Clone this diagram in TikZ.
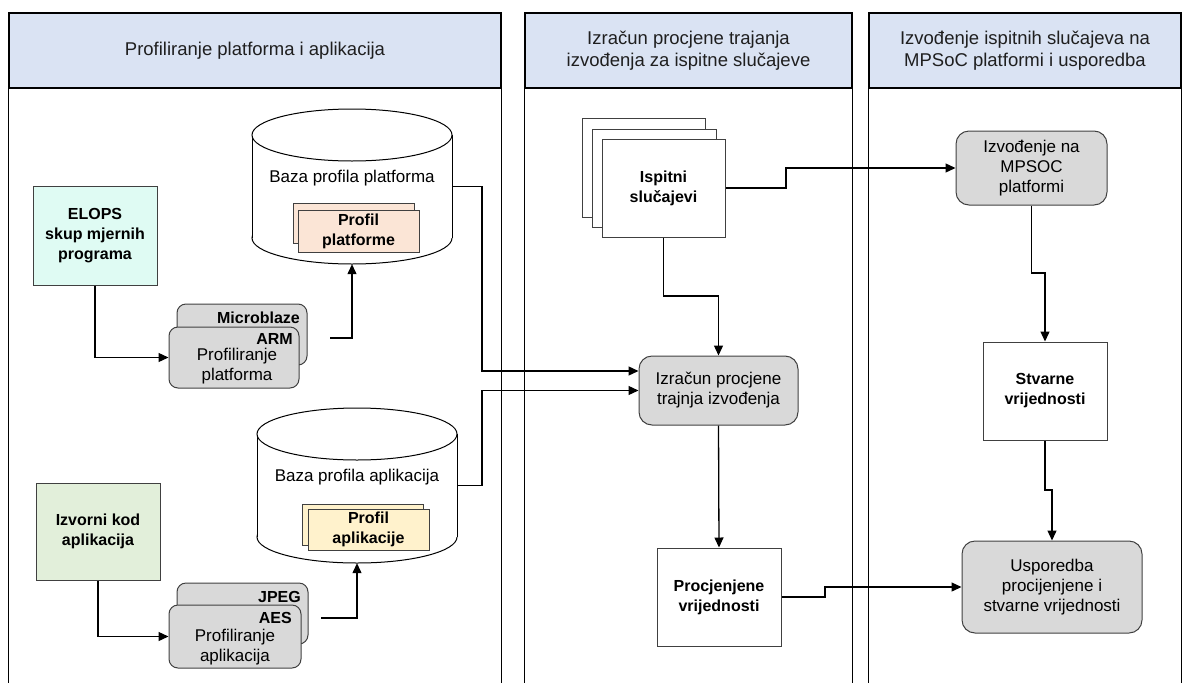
\documentclass[tikz,border=0pt]{standalone}
\usepackage{fontspec}
\setmainfont{Liberation Sans}
\usetikzlibrary{arrows.meta}
\definecolor{hdr}{HTML}{DAE3F3}
\definecolor{gry}{HTML}{D9D9D9}
\definecolor{mint}{HTML}{DFFBF3}
\definecolor{lgreen}{HTML}{E2EFDA}
\definecolor{peach}{HTML}{FBE5D6}
\definecolor{lyel}{HTML}{FFF2CC}
\definecolor{bord}{HTML}{404040}
\begin{document}
\begin{tikzpicture}[x=1pt,y=-1pt,
 hdrbox/.style={draw=black, line width=1.2pt, fill=hdr, inner sep=0,
   font=\fontsize{18.5}{22}\selectfont, align=center, text=black!88},
 lane/.style={draw=black, line width=1.2pt},
 gbox/.style={draw=bord, line width=1pt, fill=gry, rounded corners=9pt, inner sep=0},
 rbox/.style={draw=bord, line width=1pt, fill=gry, rounded corners=13pt, inner sep=0,
   font=\fontsize{17}{20}\selectfont, align=center},
 wbox/.style={draw=bord, line width=1pt, fill=white, inner sep=0,
   font=\fontsize{16}{20}\selectfont\bfseries, align=center},
 cbox/.style={draw=bord, line width=1pt, inner sep=0,
   font=\fontsize{16}{20}\selectfont\bfseries, align=center},
 btxt/.style={font=\fontsize{16}{20}\selectfont\bfseries, align=center, inner sep=0},
 rtxt/.style={font=\fontsize{17}{20}\selectfont, align=center, inner sep=0},
 cyl/.style={draw=black, line width=1pt, fill=white},
 arr/.style={draw=black, line width=1.3pt, -{Triangle[length=10pt,width=9pt]}},
 ln/.style={draw=black, line width=1.3pt}
]
\useasboundingbox (0,0) rectangle (1183,683);

% ---------- lanes ----------
\node[hdrbox, minimum width=492pt, minimum height=75pt] (h1) at (255,50.5)
  {Profiliranje platforma i aplikacija};
\node[hdrbox, minimum width=327pt, minimum height=75pt] (h2) at (688.5,50.5)
  {Izračun procjene trajanja\\izvođenja za ispitne slučajeve};
\node[hdrbox, minimum width=312pt, minimum height=75pt] (h3) at (1025,50.5)
  {Izvođenje ispitnih slučajeva na\\MPSoC platformi i usporedba};
\foreach \h in {h1,h2,h3}{
  \draw[lane] (\h.south west) -- (\h.south west |- 0,683);
  \draw[lane] (\h.south east) -- (\h.south east |- 0,683);
}

% ---------- cylinders ----------
\node[minimum width=200pt, minimum height=155pt, inner sep=0] (db1) at (352,186.5) {};
\filldraw[cyl] (352,238) ellipse [x radius=100, y radius=26];
\fill[white] (252,135) rectangle (452,238);
\draw[cyl] (252,135) -- (252,238) (452,135) -- (452,238);
\filldraw[cyl] (352,135) ellipse [x radius=100, y radius=26];
\node[rtxt] (db1t) at (352,178) {Baza profila platforma};
\node[cbox, fill=peach, minimum width=121pt, minimum height=40pt] (pp2) at (353.5,223) {};
\node[cbox, fill=peach, minimum width=121pt, minimum height=42pt] (pp1) at (358.5,231) {Profil\\platforme};

\node[minimum width=200pt, minimum height=155pt, inner sep=0] (db2) at (357,485.5) {};
\filldraw[cyl] (357,537) ellipse [x radius=100, y radius=26];
\fill[white] (257,434) rectangle (457,537);
\draw[cyl] (257,434) -- (257,537) (457,434) -- (457,537);
\filldraw[cyl] (357,434) ellipse [x radius=100, y radius=26];
\node[rtxt] (db2t) at (357,477) {Baza profila aplikacija};
\node[cbox, fill=lyel, minimum width=121pt, minimum height=41pt] (pa2) at (362.5,524.5) {};
\node[cbox, fill=lyel, minimum width=121pt, minimum height=41pt] (pa1) at (368.5,529.5) {Profil\\aplikacije};

% ---------- left column ----------
\node[cbox, fill=mint, minimum width=124pt, minimum height=99pt] (elops) at (95,235.5)
  {ELOPS\\skup mjernih\\programa};
\node[cbox, fill=lgreen, minimum width=124pt, minimum height=97pt] (izk) at (98,531.5)
  {Izvorni kod\\aplikacija};

\node[gbox, minimum width=130pt, minimum height=61pt] (mb) at (242,334.5) {};
\node[btxt, anchor=east] (mbt) at (300,318) {Microblaze};
\node[gbox, minimum width=130pt, minimum height=61pt] (arm) at (234,357.5) {};
\node[btxt, anchor=east] (armt) at (293,339) {ARM};
\node[rtxt] (armp) at (237,366) {Profiliranje\\platforma};

\node[gbox, minimum width=131pt, minimum height=61pt] (jp) at (242.5,613.5) {};
\node[btxt, anchor=east] (jpt) at (301,597) {JPEG};
\node[gbox, minimum width=132pt, minimum height=63pt] (aes) at (235,636.5) {};
\node[btxt, anchor=east] (aest) at (292,618) {AES};
\node[rtxt] (aesp) at (235,647) {Profiliranje\\aplikacija};

% ---------- middle column ----------
\node[wbox, minimum width=123pt, minimum height=99pt] (is3) at (643.5,167.5) {};
\node[wbox, minimum width=124pt, minimum height=98pt] (is2) at (654,178) {};
\node[wbox, minimum width=123pt, minimum height=98pt] (isp) at (663.5,188) {Ispitni\\slučajevi};

\node[rbox, minimum width=159pt, minimum height=69pt] (izr) at (718.5,390.5)
  {Izračun procjene\\trajnja izvođenja};
\node[wbox, minimum width=124pt, minimum height=98pt] (pr) at (719,597)
  {Procjenjene\\vrijednosti};

% ---------- right column ----------
\node[rbox, minimum width=151pt, minimum height=74pt] (izv) at (1031.5,168)
  {Izvođenje na\\MPSOC\\platformi};
\node[wbox, minimum width=124pt, minimum height=98pt] (st) at (1045,391)
  {Stvarne\\vrijednosti};
\node[rbox, minimum width=180pt, minimum height=92pt] (usp) at (1052,587)
  {Usporedba\\procijenjene i\\stvarne vrijednosti};

% ---------- connectors ----------
\coordinate (s1) at (330,338);
\coordinate (s2) at (321,618);
\draw[arr] (elops.south) |- (arm.west);
\draw[arr] (izk.south) |- (aes.west);
\draw[arr] (s1) -| (db1.south);
\draw[arr] (s2) -| (db2.south);
\draw[arr] (db1.east) -- (482,186.5) |- ([yshift=19.5pt]izr.west);
\draw[arr] (db2.east) -- (482,485.5) |- (izr.west);
\draw[arr] (isp.east) -- (786,188) |- (izv.west);
\draw[arr] (isp.south) -- (663.5,296) -| (izr.north);
\draw[arr] (izr.south) -- (pr.north);
\draw[arr] (pr.east) -- (825,597) |- (usp.west);
\draw[arr] (izv.south) -- (1031.5,273) -| (st.north);
\draw[arr] (st.south) -- (1045,490) -| (usp.north);
\end{tikzpicture}
\end{document}
